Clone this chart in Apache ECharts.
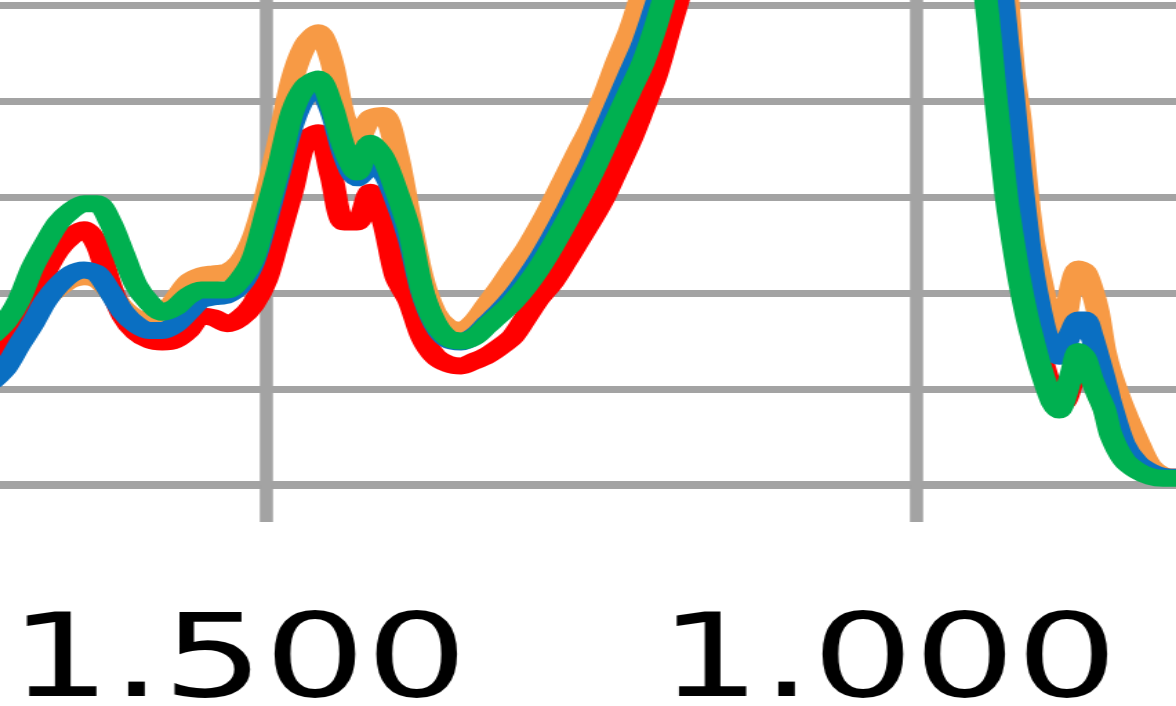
<!DOCTYPE html>
<html>
<head>
<meta charset="utf-8">
<script src="https://cdn.jsdelivr.net/npm/echarts@6/dist/echarts.min.js"></script>
<style>
  html, body { margin: 0; padding: 0; background: #ffffff; overflow: hidden; }
  #chart { width: 852px; height: 706px; transform: scaleX(1.3803); transform-origin: 0 0; }
</style>
</head>
<body>
<div id="chart"></div>
<script>
// Wavenumbers (cm-1), shared by all four spectra
const wavenumbers = [
  1710,1700,1690,1680,1670,1660,1650,1640,1630,1620,
  1610,1600,1590,1580,1570,1560,1550,1540,1530,1520,
  1510,1500,1490,1480,1470,1460,1450,1440,1430,1420,
  1410,1400,1390,1380,1370,1360,1350,1340,1330,1320,
  1310,1300,1290,1280,1270,1260,1250,1240,1230,1220,
  1210,1200,1190,1180,
  1170,1160,1150,1140,1120,1100,1080,1060,1040,1020,1000,990,980,970,960,
  950,945,940,935,930,925,920,915,910,905,900,895,890,885,880,875,870,865,860,855,850,
  840,830,820,810,800,790
];

// Absorbance of each sample
const sampleBlue = [
  0.109,0.123,0.146,0.167,0.191,0.208,0.220,0.224,0.220,0.201,
  0.180,0.167,0.161,0.161,0.167,0.180,0.193,0.196,0.198,0.208,
  0.232,0.276,0.326,0.375,0.405,0.413,0.390,0.344,0.320,0.330,
  0.326,0.297,0.257,0.201,0.167,0.151,0.149,0.155,0.168,0.181,
  0.196,0.214,0.234,0.257,0.282,0.309,0.336,0.367,0.398,0.429,
  0.460,0.500,0.545,0.590,
  0.64,0.69,0.73,0.77,0.84,0.89,0.92,0.93,0.92,0.89,0.86,0.82,0.78,0.74,0.70,
  0.66,0.61,0.57,0.526,0.464,0.400,0.330,0.270,0.220,0.185,0.157,0.141,0.134,0.146,0.161,0.172,0.172,0.156,0.133,0.109,0.083,
  0.042,0.023,0.014,0.009,0.008,0.008
];
const sampleOrange = [
  0.111,0.125,0.149,0.170,0.193,0.205,0.214,0.217,0.214,0.201,
  0.184,0.174,0.172,0.176,0.193,0.211,0.218,0.220,0.222,0.232,
  0.257,0.302,0.359,0.422,0.458,0.471,0.443,0.382,0.359,0.382,
  0.385,0.349,0.281,0.216,0.179,0.164,0.161,0.170,0.188,0.206,
  0.226,0.245,0.268,0.293,0.320,0.347,0.373,0.405,0.441,0.474,
  0.516,0.560,0.600,0.640,
  0.68,0.72,0.76,0.80,0.87,0.92,0.95,0.96,0.95,0.91,0.86,0.82,0.78,0.74,0.70,
  0.68,0.64,0.60,0.56,0.51,0.43,0.38,0.31,0.255,0.22,0.19,0.17,0.16,0.175,0.21,0.225,0.222,0.205,0.18,0.14,0.115,
  0.078,0.047,0.020,0.010,0.008,0.008
];
const sampleRed = [
  0.130,0.143,0.166,0.193,0.222,0.245,0.259,0.266,0.250,0.208,
  0.176,0.159,0.151,0.149,0.151,0.161,0.176,0.174,0.168,0.174,
  0.188,0.214,0.260,0.307,0.359,0.367,0.323,0.274,0.274,0.305,
  0.276,0.217,0.192,0.154,0.134,0.126,0.124,0.129,0.135,0.144,
  0.155,0.175,0.195,0.211,0.232,0.254,0.276,0.300,0.329,0.358,
  0.392,0.427,0.474,0.520,
  0.57,0.62,0.67,0.71,0.78,0.84,0.88,0.89,0.88,0.85,0.78,0.73,0.67,0.61,0.57,
  0.56,0.52,0.45,0.385,0.32,0.275,0.235,0.197,0.167,0.140,0.116,0.096,0.083,0.088,0.108,0.128,0.128,0.113,0.096,0.080,0.058,
  0.030,0.016,0.010,0.008,0.008,0.008
];
const sampleGreen = [
  0.157,0.171,0.193,0.226,0.251,0.273,0.286,0.293,0.293,0.274,
  0.241,0.208,0.190,0.180,0.185,0.197,0.203,0.203,0.203,0.214,
  0.236,0.283,0.333,0.388,0.415,0.423,0.396,0.351,0.326,0.356,
  0.341,0.307,0.266,0.203,0.169,0.153,0.150,0.154,0.166,0.178,
  0.191,0.207,0.226,0.248,0.272,0.297,0.323,0.352,0.382,0.411,
  0.440,0.479,0.526,0.570,
  0.62,0.67,0.72,0.76,0.83,0.88,0.91,0.92,0.91,0.87,0.80,0.75,0.69,0.63,0.58,
  0.54,0.49,0.42,0.355,0.295,0.250,0.210,0.177,0.150,0.125,0.104,0.086,0.078,0.094,0.118,0.139,0.132,0.111,0.094,0.078,0.052,
  0.026,0.015,0.009,0.007,0.007,0.007
];

// Drawing order: first listed is painted first (bottom)
const seriesList = [
  { name: 'Orange', values: sampleOrange, color: '#F79A45' },
  { name: 'Red',    values: sampleRed,    color: '#FF0000' },
  { name: 'Blue',   values: sampleBlue,   color: '#0A6FC2' },
  { name: 'Green',  values: sampleGreen,  color: '#00B050' }
];

// Wavenumber ticks, thousands separated with a dot
const xTickInterval = 500;
const formatThousands = v => String(v).replace(/\B(?=(\d{3})+(?!\d))/g, '.');

const gridGrey = '#a3a3a3';

const chart = echarts.init(document.getElementById('chart'), null, { renderer: 'canvas' });
chart.setOption({
  animation: false,
  backgroundColor: '#ffffff',
  grid: {
    left: -278, right: -282.5, top: -91, bottom: 221,
    outerBoundsMode: 'none', containLabel: false
  },
  xAxis: {
    type: 'value',
    inverse: true,
    min: 500, max: 2000, interval: xTickInterval,
    axisLine: { show: true, lineStyle: { color: gridGrey, width: 8 } },
    axisTick: { show: true, length: 37, lineStyle: { color: gridGrey, width: 9.5 } },
    splitLine: { show: true, lineStyle: { color: gridGrey, width: 9.5 } },
    axisLabel: {
      show: true,
      formatter: formatThousands,
      fontFamily: 'DejaVu Sans',
      fontSize: 116,
      color: '#000000',
      margin: 123,
      padding: [0, 40, 0, 0]
    }
  },
  yAxis: {
    type: 'value',
    min: 0, max: 0.6, interval: 0.1,
    axisLine: { show: false },
    axisTick: { show: false },
    axisLabel: { show: false },
    splitLine: { show: true, lineStyle: { color: gridGrey, width: 7 } }
  },
  series: seriesList.map(s => ({
    name: s.name,
    type: 'line',
    data: wavenumbers.map((w, i) => [w, s.values[i]]),
    showSymbol: false,
    smooth: 0.3,
    clip: true,
    lineStyle: { color: s.color, width: 17, join: 'round', cap: 'round' },
    itemStyle: { color: s.color }
  }))
});
</script>
</body>
</html>
